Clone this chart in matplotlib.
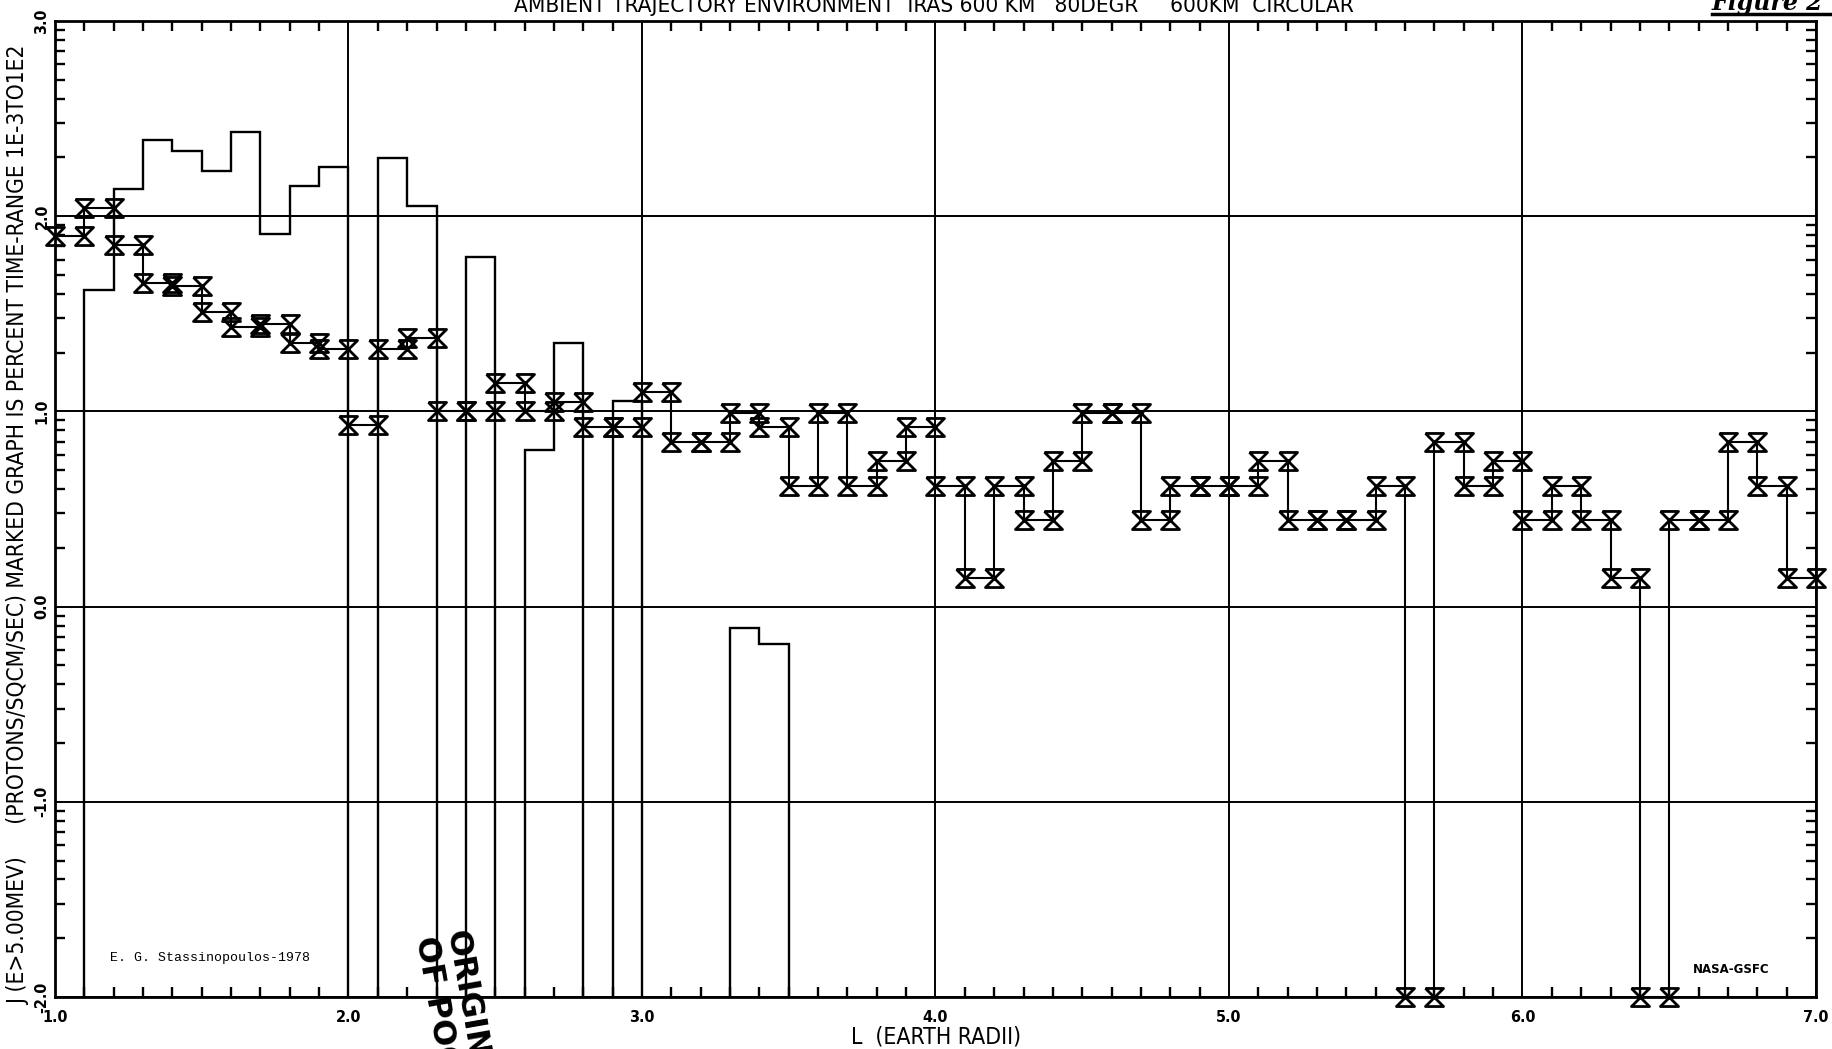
import matplotlib
matplotlib.use("Agg")
import matplotlib.pyplot as plt
from matplotlib.path import Path
from matplotlib.ticker import MultipleLocator, FixedLocator
import numpy as np

# L bins (earth radii), 0.1 wide from 1.0 to 7.0
L_edges = np.linspace(1.0, 7.0, 61)

# log10 flux J(E>5 MeV), one value per L bin (-2.0 = below range)
flux_log = [
    1.90, 2.04, 1.855, 1.66, 1.64, 1.51, 1.43, 1.45, 1.35, 1.32,
    0.93, 1.32, 1.375, 1.00, 1.00, 1.148, 1.00, 1.05, 0.92, 0.92,
    1.10, 0.845, 0.845, 0.99, 0.92, 0.62, 0.99, 0.62, 0.745, 0.92,
    0.62, 0.145, 0.62, 0.445, 0.745, 0.99, 0.99, 0.445, 0.62, 0.62,
    0.62, 0.745, 0.445, 0.445, 0.445, 0.62, -2.0, 0.845, 0.62, 0.745,
    0.445, 0.62, 0.445, 0.145, -2.0, 0.445, 0.445, 0.845, 0.62, 0.145,
]

# log10 percent of time spent in each L bin (None = no time)
time_log = [
    None, 1.62, 2.14, 2.39, 2.335, 2.23, 2.43, 1.91, 2.155, 2.25,
    None, 2.30, 2.05, None, 1.79, None, 0.80, 1.35, None, 1.055,
    None, None, None, -0.11, -0.19, None, None, None, None, None,
    None, None, None, None, None, None, None, None, None, None,
    None, None, None, None, None, None, None, None, None, None,
    None, None, None, None, None, None, None, None, None, None,
]

x_ticks = [1, 2, 3, 4, 5, 6, 7]
y_ticks = [-2, -1, 0, 1, 2, 3]

title = "AMBIENT TRAJECTORY ENVIRONMENT  IRAS 600 KM   80DEGR     600KM  CIRCULAR"
ylabel = "J (E>5.00MEV)     (PROTONS/SQCM/SEC) MARKED GRAPH IS PERCENT TIME-RANGE 1E-3TO1E2"

FONT = ["DejaVu Sans"]

fig = plt.figure(figsize=(18.33, 10.49), dpi=100)
ax = fig.add_axes([55 / 1833, 52 / 1049, 1761 / 1833, 976 / 1049])

ax.set_xlim(1.0, 7.0)
ax.set_ylim(-2.0, 3.0)

# hourglass marker used on the flux curve
hourglass = Path([(-1, 1), (1, 1), (-1, -1), (1, -1), (-1, 1)],
                 [Path.MOVETO, Path.LINETO, Path.LINETO, Path.LINETO, Path.LINETO])

# percent time histogram, empty bins pushed below the frame
time_plot = [v if v is not None else -3.0 for v in time_log]
ax.stairs(time_plot, L_edges, baseline=None, color="k", lw=1.7, zorder=3)

# flux step curve
ax.stairs(flux_log, L_edges, baseline=None, color="k", lw=1.5, zorder=3)

# markers at both levels of every bin edge
mx, my = [], []
for i, e in enumerate(L_edges):
    if i > 0:
        mx.append(e); my.append(flux_log[i - 1])
    if i < len(flux_log):
        mx.append(e); my.append(flux_log[i])
ax.plot(mx, my, ls="none", marker=hourglass, ms=13, mfc="none",
        mec="k", mew=2.0, clip_on=False, zorder=4)

# grid and ticks
ax.set_xticks(x_ticks)
ax.set_yticks(y_ticks)
ax.xaxis.set_minor_locator(MultipleLocator(0.1))
minor_y = [n + np.log10(k) for n in range(-2, 3) for k in range(2, 10)]
ax.yaxis.set_minor_locator(FixedLocator(minor_y))
ax.grid(True, which="major", color="k", lw=1.4)
ax.tick_params(axis="x", which="major", length=0, pad=9)
ax.tick_params(axis="y", which="major", length=0, pad=4)
ax.tick_params(which="minor", direction="in", length=7, width=1.7,
               top=True, right=True, bottom=True, left=True)
ax.set_xticklabels([f"{t:.1f}" for t in x_ticks], family=FONT,
                   fontsize=11.5, fontweight="bold", stretch="condensed")
ax.set_yticklabels([f"{t:.1f}" for t in y_ticks], family=FONT,
                   fontsize=11.5, fontweight="bold", rotation=90, va="center",
                   stretch="condensed")
for s in ax.spines.values():
    s.set_linewidth(2.0)

# texts
fig.text(934 / 1833, 1 - 12 / 1049, title, ha="center", va="baseline",
         family=FONT, fontsize=16.2, stretch="condensed")
fig.text(19 / 1833, 0.499, ylabel, rotation=90, ha="center", va="center",
         family=FONT, fontsize=16.3, stretch="condensed")
fig.text(936 / 1833, 6 / 1049, "L  (EARTH RADII)", ha="center", va="baseline",
         family=FONT, fontsize=16.5, stretch="condensed")
ax.text(1.187, -1.80, "E. G. Stassinopoulos-1978",
        family=["Liberation Mono", "DejaVu Sans Mono"],
        fontsize=9.5, ha="left", va="center")
ax.text(6.58, -1.86, "NASA-GSFC", family=FONT, fontsize=8.5,
        fontweight="bold", ha="left", va="center")
fig.text(1712 / 1833, 1 - 10 / 1049, "Figure 2", family="DejaVu Serif",
         style="italic", fontweight="bold", fontsize=17, ha="left", va="baseline")
fig.add_artist(plt.Line2D([1712 / 1833, 1830 / 1833], [1 - 14 / 1049, 1 - 14 / 1049],
                          color="k", lw=2.5))
fig.text(470 / 1833, 1 - 928 / 1049, "ORIGINAL\nOF POOR", rotation=-80,
         rotation_mode="anchor", ha="left", va="top", family="DejaVu Sans",
         fontweight="bold", fontsize=23, linespacing=1.0)

fig.savefig("out.png", dpi=100)
